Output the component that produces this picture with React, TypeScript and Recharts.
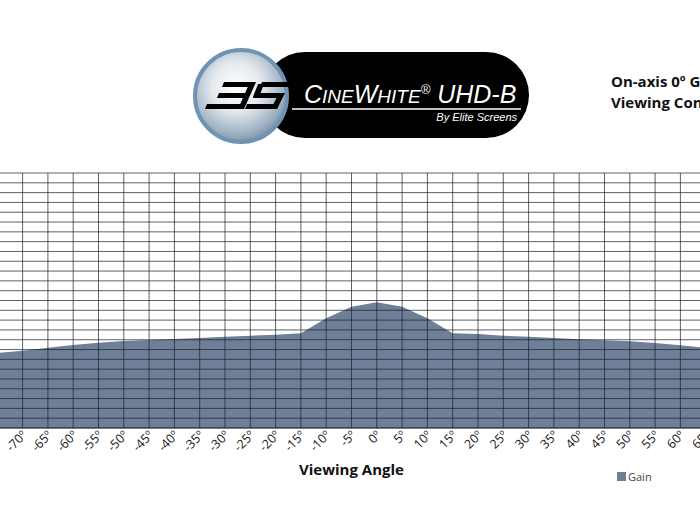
import React from 'react';
import { AreaChart, Area, XAxis, YAxis, ReferenceLine, Legend } from 'recharts';

const angles = [-80, -75, -70, -65, -60, -55, -50, -45, -40, -35, -30, -25, -20, -15, -10, -5, 0, 5, 10, 15, 20, 25, 30, 35, 40, 45, 50, 55, 60, 65, 70];
const gainValues = [0.74, 0.765, 0.788, 0.819, 0.846, 0.87, 0.887, 0.897, 0.907, 0.918, 0.931, 0.941, 0.951, 0.966, 1.118, 1.237, 1.282, 1.237, 1.118, 0.966, 0.958, 0.941, 0.931, 0.918, 0.904, 0.894, 0.884, 0.867, 0.843, 0.816, 0.785];
const yTickValues = [0, 0.1, 0.2, 0.3, 0.4, 0.5, 0.6, 0.7, 0.8, 0.9, 1.0, 1.1, 1.2, 1.3, 1.4, 1.5, 1.6, 1.7, 1.8, 1.9, 2.0, 2.1, 2.2, 2.3, 2.4, 2.5, 2.6];
const xTicks = angles;

const data = angles.map((a, i) => ({ angle: a, gain: gainValues[i] }));

const FONT = '"Open Sans", "Noto Sans", sans-serif';
const GRID = '#1c1f2a';

const AngleTick = (props: any) => {
  const { x, y, payload } = props;
  const ax = x + 5;
  const ay = y;
  return (
    <text
      x={ax}
      y={ay}
      transform={`rotate(-45, ${ax}, ${ay})`}
      textAnchor="end"
      fontSize={12.5}
      fontFamily={FONT}
      fill="#1a1a1a"
    >
      {`${payload.value}º`}
    </text>
  );
};

const Logo = () => (
  <svg width={700} height={160} style={{ position: 'absolute', left: 0, top: 0 }}>
    <defs>
      <radialGradient id="sphere" cx="45%" cy="40%" r="60%">
        <stop offset="0%" stopColor="#ffffff" />
        <stop offset="45%" stopColor="#e4e9ee" />
        <stop offset="85%" stopColor="#9fb1c2" />
        <stop offset="100%" stopColor="#7f94a8" />
      </radialGradient>
    </defs>
    <rect x={262} y={52} width={267} height={86} rx={43} ry={43} fill="#000" />
    <circle cx={241} cy={96} r={46} fill="url(#sphere)" stroke="#6f93b5" strokeWidth={4} />
    <g fill="#000">
      <polygon points="224,82 254,82 252,87 222,87" />
      <polygon points="219,93 248,93 246,98 217,98" />
      <polygon points="207,104 243,104 241,109 205,109" />
      <polygon points="250,82 256,82 244,109 238,109" />
      <polygon points="262,82 292,82 290,87 260,87" />
      <polygon points="258,84 264,84 259,97 253,97" />
      <polygon points="255,93 282,93 280,98 253,98" />
      <polygon points="279,93 285,93 277,109 271,109" />
      <polygon points="247,104 279,104 277,109 245,109" />
    </g>
    <text x={304} y={103} fill="#fff" fontStyle="italic" fontFamily='"Liberation Sans", Arial, sans-serif'>
      <tspan fontSize={25}>C</tspan>
      <tspan fontSize={19}>INE</tspan>
      <tspan fontSize={25}>W</tspan>
      <tspan fontSize={19}>HITE</tspan>
      <tspan fontSize={13} dy={-9}>®</tspan>
      <tspan fontSize={25} dy={9}> UHD-B</tspan>
    </text>
    <line x1={292} y1={109} x2={521} y2={109} stroke="#fff" strokeWidth={1.5} />
    <text x={517} y={121} fill="#fff" fontStyle="italic" fontSize={11} textAnchor="end" fontFamily='"Liberation Sans", Arial, sans-serif'>
      By Elite Screens
    </text>
    <text x={611} y={87} fontSize={15} fontWeight={700} fill="#111" fontFamily={FONT}>
      On-axis 0º Gain
    </text>
    <text x={611} y={108} fontSize={15} fontWeight={700} fill="#111" fontFamily={FONT}>
      Viewing Cone
    </text>
  </svg>
);

export default function App() {
  return (
    <div
      style={{
        position: 'absolute',
        left: 0,
        top: 0,
        width: 700,
        height: 518,
        overflow: 'hidden',
        background: '#fff',
        fontFamily: FONT,
      }}
    >
      <Logo />
      <div style={{ position: 'absolute', left: -28, top: 0 }}>
        <AreaChart
          width={780}
          height={518}
          data={data}
          margin={{ top: 173, right: 21, bottom: 16, left: 0 }}
        >
          <Area
            type="linear"
            dataKey="gain"
            name="Gain"
            fill="#6f7f98"
            fillOpacity={1}
            stroke="none"
            isAnimationActive={false}
          />
          {yTickValues.map((v) => (
            <ReferenceLine key={`h${v}`} y={v} stroke={GRID} strokeOpacity={0.7} strokeWidth={1} ifOverflow="extendDomain" />
          ))}
          {xTicks.map((v) => (
            <ReferenceLine key={`v${v}`} x={v} stroke={GRID} strokeOpacity={0.7} strokeWidth={1} ifOverflow="extendDomain" />
          ))}
          <XAxis
            dataKey="angle"
            type="number"
            domain={[-80, 70]}
            ticks={xTicks}
            interval={0}
            tick={<AngleTick />}
            tickLine={false}
            axisLine={{ stroke: GRID, strokeOpacity: 0.7 }}
            height={52}
            label={{
              value: 'Viewing Angle',
              position: 'insideBottom',
              offset: 5,
              fontSize: 15,
              fontWeight: 700,
              fill: '#111',
              fontFamily: FONT,
            }}
          />
          <YAxis
            type="number"
            domain={[0, 2.6]}
            ticks={yTickValues}
            width={0}
            tick={false}
            tickLine={false}
            axisLine={false}
          />
          <Legend
            verticalAlign="bottom"
            align="left"
            iconType="square"
            iconSize={9}
            wrapperStyle={{ position: 'absolute', left: 645, top: 464, width: 60, bottom: 'auto' }}
            formatter={(v: string) => (
              <span style={{ color: '#444', fontSize: 11, fontFamily: FONT, marginLeft: -2 }}>{v}</span>
            )}
          />
        </AreaChart>
      </div>
    </div>
  );
}
